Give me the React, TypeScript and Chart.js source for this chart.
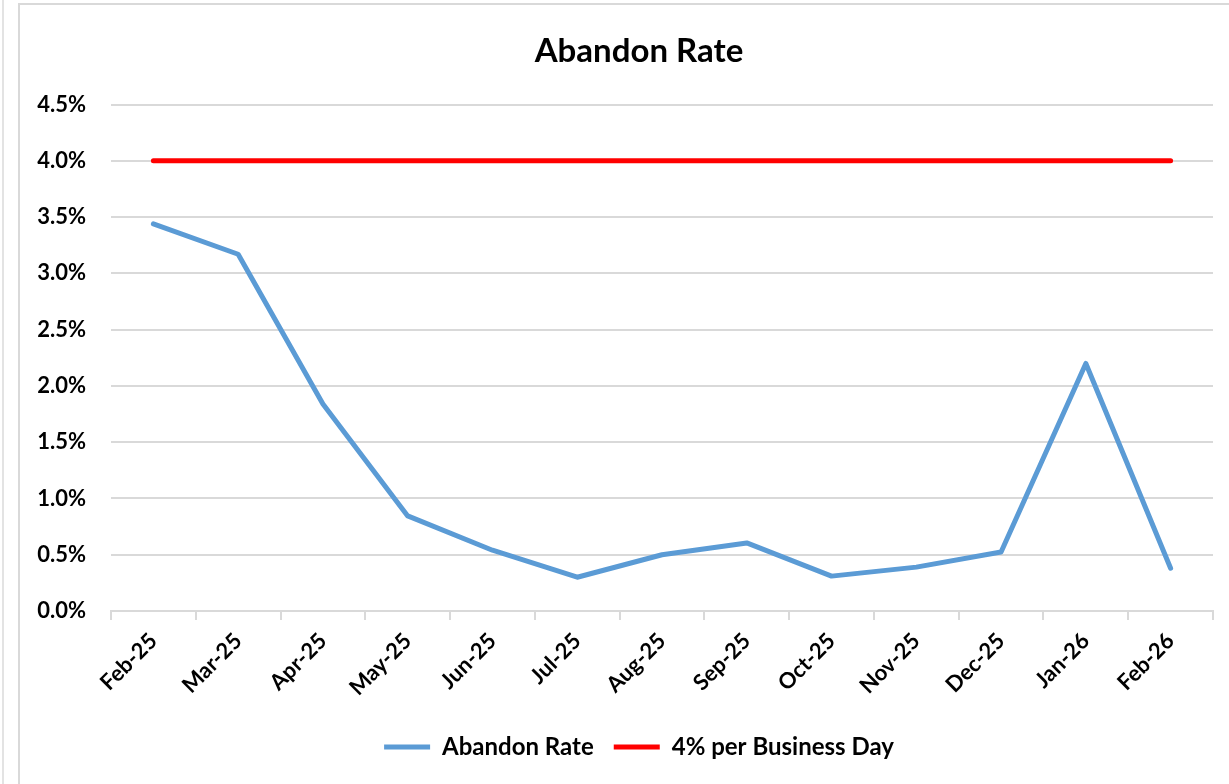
import React, { useEffect, useRef } from "react";
import { Chart, registerables } from "chart.js";

Chart.register(...registerables);

const categories = ["Feb-25", "Mar-25", "Apr-25", "May-25", "Jun-25", "Jul-25", "Aug-25", "Sep-25", "Oct-25", "Nov-25", "Dec-25", "Jan-26", "Feb-26"];
const abandonRate = [3.44, 3.17, 1.84, 0.845, 0.54, 0.3, 0.5, 0.605, 0.31, 0.39, 0.525, 2.2, 0.38];
const targetRate = [4, 4, 4, 4, 4, 4, 4, 4, 4, 4, 4, 4, 4];
const yTicks = [0, 0.5, 1, 1.5, 2, 2.5, 3, 3.5, 4, 4.5];

const FONT = "Lato, 'Open Sans', sans-serif";

export default function App() {
  const ref = useRef<HTMLCanvasElement | null>(null);
  useEffect(() => {
    if (!ref.current) return;
    const chart = new Chart(ref.current, {
      type: "line",
      data: {
        labels: categories,
        datasets: [
          {
            label: "Abandon Rate",
            data: abandonRate,
            borderColor: "#5B9BD5",
            backgroundColor: "#5B9BD5",
            borderWidth: 5,
            borderCapStyle: "round",
            borderJoinStyle: "round",
            pointRadius: 0,
            tension: 0,
          },
          {
            label: "4% per Business Day",
            data: targetRate,
            borderColor: "#FF0000",
            backgroundColor: "#FF0000",
            borderWidth: 5,
            borderCapStyle: "round",
            borderJoinStyle: "round",
            pointRadius: 0,
            tension: 0,
          },
        ],
      },
      options: {
        animation: false,
        responsive: false,
        maintainAspectRatio: false,
        layout: { padding: { left: 0, right: 0, top: 0, bottom: 15 } },
        plugins: {
          title: {
            display: true,
            text: "Abandon Rate",
            color: "#000",
            font: { family: FONT, size: 33, weight: "bold" },
            padding: { top: 27, bottom: 33 },
          },
          legend: {
            position: "bottom",
            labels: {
              color: "#000",
              font: { family: FONT, size: 24, weight: "bold" },
              usePointStyle: true,
              pointStyle: "line",
              pointStyleWidth: 46,
              padding: 20,
            },
          },
          tooltip: { enabled: false },
        },
        scales: {
          x: {
            offset: true,
            grid: {
              display: true,
              drawOnChartArea: false,
              drawTicks: true,
              tickLength: 9,
              offset: true,
              color: "#d9d9d9",
              lineWidth: 2,
            },
            border: { display: true, color: "#d9d9d9", width: 2 },
            ticks: {
              color: "#000",
              font: { family: FONT, size: 22, weight: "bold" },
              maxRotation: 45,
              minRotation: 45,
              autoSkip: false,
              padding: 8,
            },
            afterFit: (scale: any) => {
              scale.height = 104;
            },
          },
          y: {
            min: 0,
            max: 4.5,
            afterBuildTicks: (scale: any) => {
              scale.ticks = yTicks.map((v) => ({ value: v }));
            },
            grid: {
              color: "#d9d9d9",
              lineWidth: 2,
              drawTicks: false,
            },
            border: { display: false },
            ticks: {
              color: "#000",
              font: { family: FONT, size: 22, weight: "bold" },
              padding: 25,
              callback: (v: any) => Number(v).toFixed(1) + "%",
            },
            afterFit: (scale: any) => {
              scale.width = 91;
            },
          },
          yRight: {
            position: "right",
            min: 0,
            max: 4.5,
            grid: { display: false, drawTicks: false },
            border: { display: false },
            ticks: { display: false },
            afterFit: (scale: any) => {
              scale.width = 45;
            },
          },
        },
      },
    });
    return () => chart.destroy();
  }, []);

  return (
    <div style={{ position: "absolute", left: 0, top: 0, width: 1229, height: 784, overflow: "hidden", background: "#fff" }}>
      <div style={{ position: "absolute", left: 2, top: 0, width: 2, height: 784, background: "#e3e3e3" }} />
      <div
        style={{
          position: "absolute",
          left: 18,
          top: 3,
          width: 1260,
          height: 800,
          borderLeft: "2px solid #d9d9d9",
          borderTop: "2px solid #d9d9d9",
        }}
      />
      <canvas ref={ref} width={1238} height={779} style={{ position: "absolute", left: 20, top: 5, width: 1238, height: 779 }} />
    </div>
  );
}
